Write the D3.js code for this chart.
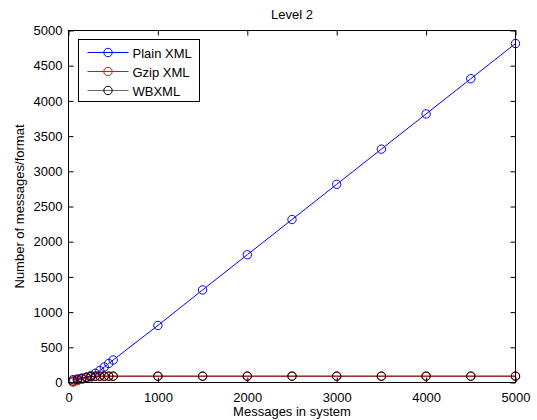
<!DOCTYPE html>
<head>
  <meta charset="utf-8">
  <script src="https://cdnjs.cloudflare.com/ajax/libs/d3/7.8.5/d3.min.js"></script>
</head>

<style>
body {
  margin: 0;
  background-color: #fff;
}
svg text {
  font-family: "Liberation Sans", Arial, sans-serif;
  font-size: 13px;
}
</style>

<body>
  <svg id='chart' width='537' height='420'></svg>
</body>

<script>

var messages = [50, 100, 150, 200, 250, 300, 350, 400, 450, 500,
                1000, 1500, 2000, 2500, 3000, 3500, 4000, 4500, 5000];
var plainXml = [40, 50, 60, 75, 100, 130, 170, 220, 270, 320,
                810, 1315, 1815, 2315, 2815, 3315, 3815, 4315, 4815];
var gzipXml  = [5, 25, 45, 65, 80, 88, 90, 90, 90, 90,
                90, 90, 90, 90, 90, 90, 90, 90, 90];
var wbXml    = [20, 40, 60, 75, 85, 90, 90, 90, 90, 90,
                90, 90, 90, 90, 90, 90, 90, 90, 90];
var yTicks = [0, 500, 1000, 1500, 2000, 2500, 3000, 3500, 4000, 4500, 5000];
var xTicks = [0, 1000, 2000, 3000, 4000, 5000];

var series = [
  {name: 'Plain XML', values: plainXml, line: '#0000ff', mark: '#0000ff', op: 1},
  {name: 'Gzip XML', values: gzipXml, line: '#ff0000', mark: '#ff0000', op: 1},
  {name: 'WBXML', values: wbXml, line: '#000000', mark: '#000000', op: 0.6}
];

var svg = d3.select('#chart');
var m = {left: 68.5, right: 515.5, top: 30.5, bottom: 382.5};

var x = d3.scaleLinear().domain([0, 5000]).range([m.left, m.right]);
var y = d3.scaleLinear().domain([0, 5000]).range([m.bottom, m.top]);
var fmt = d3.format('d');

// inward ticks on all four sides, matlab style
var tl = 5;
svg.append('g').attr('transform', 'translate(0,' + m.bottom + ')')
  .call(d3.axisBottom(x).tickValues(xTicks).tickSizeInner(-tl).tickSizeOuter(0).tickPadding(10).tickFormat(fmt));
svg.append('g').attr('transform', 'translate(0,' + m.top + ')')
  .call(d3.axisTop(x).tickValues(xTicks).tickSizeInner(-tl).tickSizeOuter(0).tickFormat(''));
svg.append('g').attr('transform', 'translate(' + m.left + ',0)')
  .call(d3.axisLeft(y).tickValues(yTicks).tickSizeInner(-tl).tickSizeOuter(0).tickPadding(6).tickFormat(fmt));
svg.append('g').attr('transform', 'translate(' + m.right + ',0)')
  .call(d3.axisRight(y).tickValues(yTicks).tickSizeInner(-tl).tickSizeOuter(0).tickFormat(''));

svg.selectAll('.domain').remove();
svg.selectAll('.tick text').attr('fill', '#000')
  .style('font-family', '"Liberation Sans", Arial, sans-serif').style('font-size', '13px');
svg.selectAll('.tick line').attr('stroke', '#000');

var line = d3.line()
  .x(function(d, i) { return x(messages[i]); })
  .y(function(d) { return y(d); });

series.forEach(function(s) {
  svg.append('path')
    .attr('d', line(s.values))
    .attr('fill', 'none')
    .attr('stroke', s.line)
    .attr('stroke-opacity', s.op)
    .attr('stroke-width', 1);
  svg.append('g').selectAll('circle')
    .data(s.values)
    .enter().append('circle')
      .attr('cx', function(d, i) { return x(messages[i]); })
      .attr('cy', function(d) { return y(d); })
      .attr('r', 4.2)
      .attr('fill', 'none')
      .attr('stroke', s.mark)
      .attr('stroke-width', 1);
});

svg.append('rect')
  .attr('x', m.left).attr('y', m.top)
  .attr('width', m.right - m.left).attr('height', m.bottom - m.top)
  .attr('fill', 'none').attr('stroke', '#000').attr('stroke-width', 1);

// legend
var lg = svg.append('g').attr('transform', 'translate(78.5,39.5)');
lg.append('rect').attr('width', 121).attr('height', 62)
  .attr('fill', '#fff').attr('stroke', '#000');
series.forEach(function(s, i) {
  var ly = 13 + i * 19;
  lg.append('line').attr('x1', 9).attr('x2', 50).attr('y1', ly).attr('y2', ly)
    .attr('stroke', s.line).attr('stroke-opacity', s.op);
  lg.append('circle').attr('cx', 29.5).attr('cy', ly).attr('r', 4.2)
    .attr('fill', 'none').attr('stroke', s.mark);
  lg.append('text').attr('x', 54).attr('y', ly + 5).text(s.name);
});

svg.append('text').attr('x', (m.left + m.right) / 2).attr('y', 19)
  .attr('text-anchor', 'middle').text('Level 2');
svg.append('text').attr('x', (m.left + m.right) / 2).attr('y', 416)
  .attr('text-anchor', 'middle').text('Messages in system');
svg.append('text')
  .attr('transform', 'translate(24,' + ((m.top + m.bottom) / 2) + ') rotate(-90)')
  .attr('text-anchor', 'middle').text('Number of messages/format');

</script>
